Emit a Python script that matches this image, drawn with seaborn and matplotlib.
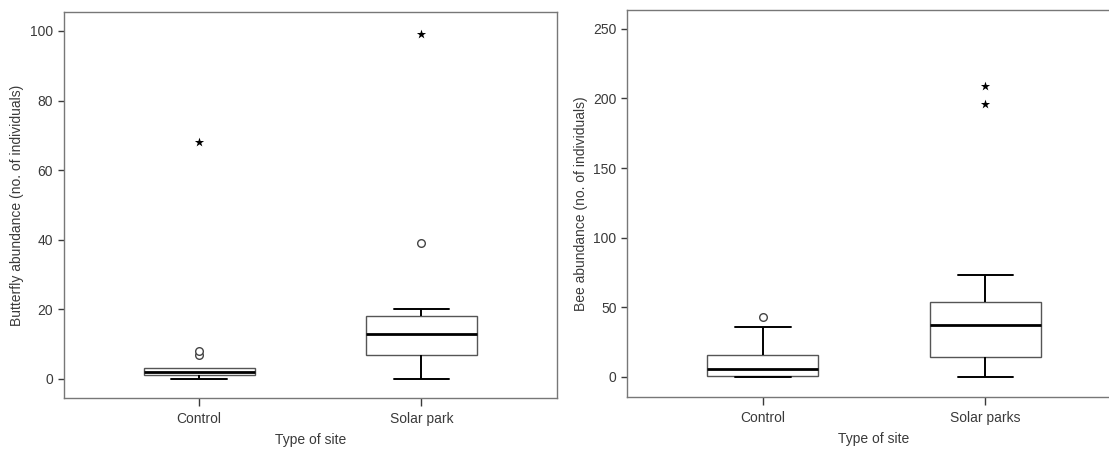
import matplotlib
matplotlib.use("Agg")
import matplotlib.pyplot as plt
import pandas as pd
import seaborn as sns

# Values (non-outlier points per group)
butterfly_sites = ["Control", "Solar park"]
butterfly_control = [0, 1, 1, 2, 2, 2, 3, 3, 3]
butterfly_solar = [0, 5, 7, 10, 13, 15, 18, 19, 20]
butterfly_mild = {"Control": [7, 8], "Solar park": [39]}
butterfly_extreme = {"Control": [68], "Solar park": [99]}

bee_sites = ["Control", "Solar parks"]
bee_control = [0, 0, 1, 3, 6, 10, 16, 25, 36]
bee_solar = [0, 8, 14, 25, 37, 45, 54, 65, 73]
bee_mild = {"Control": [43], "Solar parks": []}
bee_extreme = {"Control": [], "Solar parks": [196, 209]}

sns.set_style("ticks")
plt.rcParams["font.family"] = ["Liberation Sans", "DejaVu Sans"]
plt.rcParams["font.size"] = 10

TEXT = "#3a3a3a"
FRAME = "#777777"


def long_df(sites, groups):
    rows = []
    for s, vals in zip(sites, groups):
        for v in vals:
            rows.append({"site": s, "value": v})
    return pd.DataFrame(rows, columns=["site", "value"])


def draw(ax, sites, groups, mild, extreme, ylabel, ylim, yticks):
    df = long_df(sites, groups)
    sns.boxplot(data=df, x="site", y="value", order=sites, ax=ax,
                whis=(0, 100), showfliers=False, width=0.5,
                color="white", linecolor="#555555", linewidth=1,
                medianprops=dict(color="black", linewidth=2),
                whiskerprops=dict(color="black", linewidth=1.4),
                capprops=dict(color="black", linewidth=1.4))
    # SPSS draws no cap when the whisker has zero length
    for ln in ax.lines:
        yd = ln.get_ydata()
        if len(yd) == 2 and yd[0] == yd[1]:
            for vals in groups:
                q3 = pd.Series(vals).quantile(0.75)
                if yd[0] == max(vals) == q3:
                    ln.set_visible(False)
    dm = long_df(list(mild.keys()), list(mild.values()))
    if len(dm):
        sns.stripplot(data=dm, x="site", y="value", order=sites, ax=ax,
                      jitter=False, marker="o", size=5.5, color="white",
                      edgecolor="#444444", linewidth=1)
    de = long_df(list(extreme.keys()), list(extreme.values()))
    if len(de):
        sns.stripplot(data=de, x="site", y="value", order=sites, ax=ax,
                      jitter=False, marker="*", size=7, color="black",
                      linewidth=0)
    ax.set_xlim(-0.61, 1.61)
    ax.set_ylim(*ylim)
    ax.set_yticks(yticks)
    ax.set_xlabel("Type of site", color=TEXT, labelpad=5)
    ax.set_ylabel(ylabel, color=TEXT, labelpad=4)
    ax.tick_params(colors=TEXT, labelcolor=TEXT, length=4, width=1)
    ax.tick_params(axis="x", length=6, pad=4)
    for sp in ax.spines.values():
        sp.set_color(FRAME)
        sp.set_linewidth(1)
        sp.set_visible(True)


fig = plt.figure(figsize=(11.09, 4.49), dpi=100)
ax1 = fig.add_axes([0.0573, 0.1136, 0.445, 0.86])
ax2 = fig.add_axes([0.5654, 0.1158, 0.4455, 0.863])

draw(ax1, butterfly_sites, [butterfly_control, butterfly_solar],
     butterfly_mild, butterfly_extreme,
     "Butterfly abundance (no. of individuals)", (-5.5, 105.5),
     [0, 20, 40, 60, 80, 100])
draw(ax2, bee_sites, [bee_control, bee_solar],
     bee_mild, bee_extreme,
     "Bee abundance (no. of individuals)", (-14.4, 263.8),
     [0, 50, 100, 150, 200, 250])

fig.savefig("out.png", dpi=100)
